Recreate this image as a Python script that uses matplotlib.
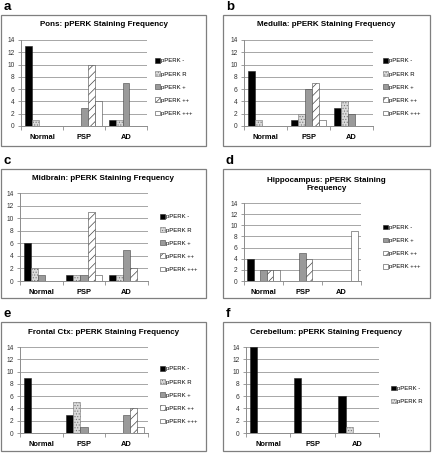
import numpy as np
import matplotlib
matplotlib.use("Agg")
import matplotlib.pyplot as plt
from matplotlib.patches import Rectangle, Patch

plt.rcParams['font.family'] = ['Liberation Sans', 'DejaVu Sans']
plt.rcParams['hatch.linewidth'] = 0.5

W, H = 433, 462

categories = ["Normal", "PSP", "AD"]
series_names = ["pPERK -", "pPERK R", "pPERK +", "pPERK ++", "pPERK +++"]

# values per series, order Normal, PSP, AD
pons_neg = [13, 0, 1]
pons_r = [1, 0, 1]
pons_plus = [0, 3, 7]
pons_pp = [0, 10, 0]
pons_ppp = [0, 4, 0]

medulla_neg = [9, 1, 3]
medulla_r = [1, 2, 4]
medulla_plus = [0, 6, 2]
medulla_pp = [0, 7, 0]
medulla_ppp = [0, 1, 0]

midbrain_neg = [6, 1, 1]
midbrain_r = [2, 1, 1]
midbrain_plus = [1, 1, 5]
midbrain_pp = [0, 11, 2]
midbrain_ppp = [0, 1, 0]

hippo_neg = [4, 0, 0]
hippo_r = [0, 0, 0]
hippo_plus = [2, 5, 0]
hippo_pp = [2, 4, 0]
hippo_ppp = [2, 0, 9]

frontal_neg = [9, 3, 0]
frontal_r = [0, 5, 0]
frontal_plus = [0, 1, 3]
frontal_pp = [0, 0, 4]
frontal_ppp = [0, 0, 1]

cereb_neg = [14, 9, 6]
cereb_r = [0, 0, 1]

# bar look for each series: facecolor, hatch, edge/hatch colour
styles = [("black", None, "#222222"), ("#dadada", "......", "#777777"),
          ("#9a9a9a", None, "#444444"), ("white", "////", "#444444"),
          ("white", None, "#444444")]


def fbox(x0, y0, x1, y1):
    # pixel box -> figure fraction [left, bottom, width, height]
    return [x0 / W, 1 - y1 / H, (x1 - x0) / W, (y1 - y0) / H]


fig = plt.figure(figsize=(W / 100, H / 100), dpi=100)


def draw_panel(letter, title, box, plot, title_y, leg, data, legend_idx):
    # outer frame, kept under the axes
    bx = fbox(*box)
    fig.patches.append(Rectangle((bx[0], bx[1]), bx[2], bx[3], transform=fig.transFigure,
                                 facecolor="white", edgecolor="#7f7f7f", linewidth=0.9,
                                 zorder=-1))
    fig.text((box[0] + 3) / W, 1 - (box[1] - 8) / H, letter, fontsize=9.5,
             fontweight="bold", va="center", ha="left")
    fig.text((box[0] + box[2]) / 2 / W, 1 - title_y / H, title, fontsize=5.8,
             fontweight="bold", ha="center", va="center", linespacing=1.15)

    ax = fig.add_axes(fbox(*plot))
    ax.patch.set_alpha(0)
    w = 1 / 6
    x = np.arange(len(categories))
    for j, vals in enumerate(data):
        if vals is None:
            continue
        fc, hatch, ec = styles[j]
        for i, v in enumerate(vals):
            if v == 0:
                continue
            ax.bar(x[i] + (j - 2) * w, v, width=w, color=fc, hatch=hatch,
                   edgecolor=ec, linewidth=0.4, zorder=3)
    ax.set_xlim(-0.5, 2.5)
    ax.set_ylim(0, 14)
    ax.set_yticks(range(0, 15, 2))
    ax.yaxis.grid(True, color="#a6a6a6", linewidth=0.7)
    ax.set_axisbelow(True)
    for s in ["top", "right"]:
        ax.spines[s].set_visible(False)
    ax.spines["left"].set_color("#8c8c8c")
    ax.spines["bottom"].set_color("#8c8c8c")
    ax.spines["left"].set_linewidth(0.7)
    ax.spines["bottom"].set_linewidth(0.7)
    ax.set_xticks(x)
    ax.set_xticklabels(categories, fontsize=5.4, fontweight="bold")
    ax.set_xticks([-0.5, 0.5, 1.5, 2.5], minor=True)
    ax.tick_params(axis="x", which="major", length=0, pad=5.5)
    ax.tick_params(axis="x", which="minor", length=3, color="#8c8c8c", width=0.6)
    ax.tick_params(axis="y", length=2.5, color="#8c8c8c", width=0.6, labelsize=4.8,
                   labelcolor="#333333", pad=2)

    handles = []
    for j in legend_idx:
        fc, hatch, ec = styles[j]
        handles.append(Patch(facecolor=fc, hatch=hatch, edgecolor=ec,
                             linewidth=0.4, label=series_names[j]))
    fig.legend(handles=handles, loc="center left", bbox_to_anchor=(leg[0] / W, 1 - leg[1] / H),
               frameon=False, fontsize=4.3, handlelength=0.8, handleheight=0.8,
               handletextpad=0.2, labelspacing=1.3, borderpad=0, borderaxespad=0)


draw_panel("a", "Pons: pPERK Staining Frequency", (1, 15, 206, 146), (21, 40, 147, 126), 25,
           (155, 87), [pons_neg, pons_r, pons_plus, pons_pp, pons_ppp], [0, 1, 2, 3, 4])
draw_panel("b", "Medulla: pPERK Staining Frequency", (223, 15, 430, 146), (244, 40, 373, 126), 25,
           (383, 87), [medulla_neg, medulla_r, medulla_plus, medulla_pp, medulla_ppp], [0, 1, 2, 3, 4])
draw_panel("c", "Midbrain: pPERK Staining Frequency", (1, 169, 206, 298), (20, 193, 148, 281), 179,
           (160, 243), [midbrain_neg, midbrain_r, midbrain_plus, midbrain_pp, midbrain_ppp], [0, 1, 2, 3, 4])
draw_panel("d", "Hippocampus: pPERK Staining\nFrequency", (223, 169, 430, 298), (244, 203, 361, 281), 184.5,
           (383, 247), [hippo_neg, hippo_r, hippo_plus, hippo_pp, hippo_ppp], [0, 2, 3, 4])
draw_panel("e", "Frontal Ctx: pPERK Staining Frequency", (1, 322, 206, 451), (20, 347, 148, 433), 332,
           (160, 395), [frontal_neg, frontal_r, frontal_plus, frontal_pp, frontal_ppp], [0, 1, 2, 3, 4])
draw_panel("f", "Cerebellum: pPERK Staining Frequency", (223, 322, 430, 451), (246, 347, 379, 433), 332,
           (391, 395), [cereb_neg, cereb_r, None, None, None], [0, 1])

fig.savefig("out.png", dpi=100)
